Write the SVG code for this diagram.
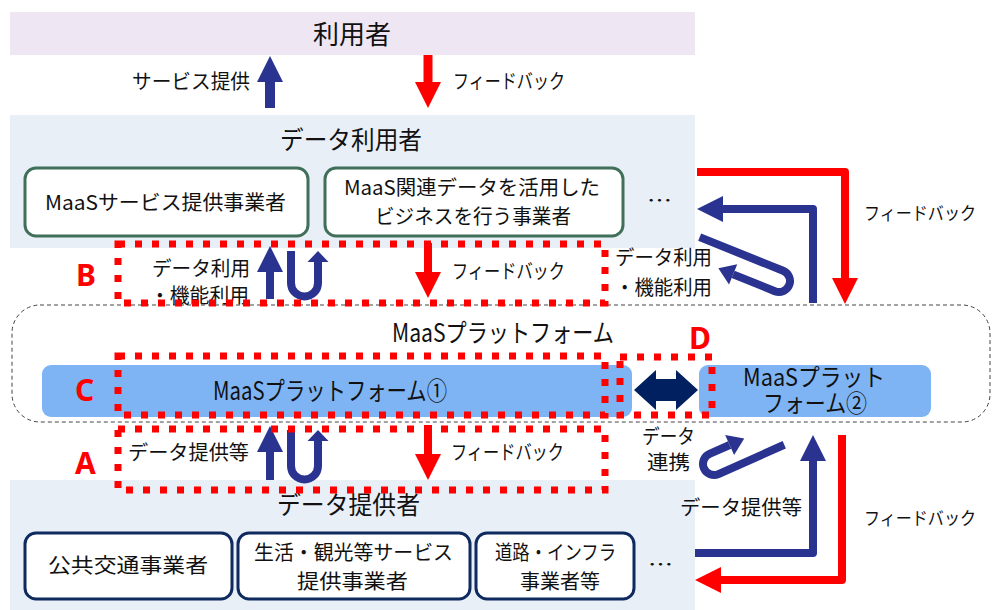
<svg xmlns="http://www.w3.org/2000/svg" width="992" height="610" viewBox="0 0 992 610">
<style>
text{font-family:"Noto Sans CJK JP","Noto Sans",sans-serif;fill:#111;}
.t20{font-size:20px;}
.t18{font-size:18px;}
.t24{font-size:24px;}
.t25{font-size:25px;}
.lbl{font-family:"Noto Sans","Liberation Sans",sans-serif;font-weight:bold;font-size:30px;fill:#FF0000;}
.band{fill:#E9EFF7;}
.gbox{fill:#fff;stroke:#41705A;stroke-width:3;}
.nbox{fill:#fff;stroke:#0F2A5E;stroke-width:3;}
.bar{fill:#7FB4F4;}
.dot{fill:none;stroke:#FF0000;stroke-width:7;stroke-dasharray:7 10;}
.blue{fill:none;stroke:#2B3391;stroke-linejoin:round;}
.red{fill:none;stroke:#FF0000;stroke-linejoin:round;}
</style>
<defs>
<marker id="hb" markerUnits="userSpaceOnUse" markerWidth="27" markerHeight="26" refX="0" refY="13" orient="auto" overflow="visible"><path d="M0,0 L26,13 L0,26 Z" fill="#2B3391"/></marker>
<marker id="hr" markerUnits="userSpaceOnUse" markerWidth="27" markerHeight="26" refX="0" refY="13" orient="auto" overflow="visible"><path d="M0,0 L26,13 L0,26 Z" fill="#FF0000"/></marker>
<marker id="hbs" markerUnits="userSpaceOnUse" markerWidth="12" markerHeight="21" refX="0" refY="10.5" orient="auto" overflow="visible"><path d="M0,0 L11,10.5 L0,21 Z" fill="#2B3391"/></marker>
<marker id="hbh" markerUnits="userSpaceOnUse" markerWidth="17" markerHeight="22" refX="0" refY="11" orient="auto" overflow="visible"><path d="M0,0 L16,11 L0,22 Z" fill="#2B3391"/></marker>
</defs>

<g id="users">
<rect x="10" y="12" width="685" height="43" fill="#EEE6F3"/>
<text x="352" y="44" font-size="26" text-anchor="middle">利用者</text>
</g>

<g id="data-users">
<rect class="band" x="10" y="115" width="685" height="133"/>
<text class="t25" x="280" y="149" textLength="142" lengthAdjust="spacingAndGlyphs">データ利用者</text>
</g>
<g id="maas-service">
<rect class="gbox" x="25" y="168" width="283" height="68" rx="11"/>
<text class="t20" x="45" y="210" textLength="241" lengthAdjust="spacingAndGlyphs">MaaSサービス提供事業者</text>
</g>
<g id="maas-data-biz">
<rect class="gbox" x="325" y="168" width="298" height="68" rx="11"/>
<text class="t20" x="344" y="195" textLength="256" lengthAdjust="spacingAndGlyphs">MaaS関連データを活用した</text>
<text class="t20" x="375" y="224" textLength="196" lengthAdjust="spacingAndGlyphs">ビジネスを行う事業者</text>
</g>
<g id="users-more"><text class="t20" x="647" y="208" textLength="25" lengthAdjust="spacingAndGlyphs">…</text></g>

<g id="data-providers">
<rect class="band" x="10" y="480" width="685" height="130"/>
<text class="t25" x="277" y="514" textLength="143" lengthAdjust="spacingAndGlyphs">データ提供者</text>
</g>
<g id="transit">
<rect class="nbox" x="25" y="533" width="207" height="66" rx="11"/>
<text class="t20" x="48" y="573" textLength="160" lengthAdjust="spacingAndGlyphs">公共交通事業者</text>
</g>
<g id="life-tourism">
<rect class="nbox" x="238" y="533" width="232" height="66" rx="11"/>
<text class="t20" x="254" y="560" textLength="199" lengthAdjust="spacingAndGlyphs">生活・観光等サービス</text>
<text class="t20" x="297" y="589" textLength="111" lengthAdjust="spacingAndGlyphs">提供事業者</text>
</g>
<g id="road-infra">
<rect class="nbox" x="476" y="533" width="158" height="66" rx="11"/>
<text class="t20" x="495" y="560" textLength="121" lengthAdjust="spacingAndGlyphs">道路・インフラ</text>
<text class="t20" x="520" y="589" textLength="80" lengthAdjust="spacingAndGlyphs">事業者等</text>
</g>
<g id="providers-more"><text class="t20" x="648" y="572" textLength="25" lengthAdjust="spacingAndGlyphs">…</text></g>

<g id="platform">
<rect x="12" y="305" width="978" height="117" rx="28" fill="none" stroke="#444" stroke-width="1" stroke-dasharray="4 3"/>
<text class="t25" x="392" y="342" textLength="222" lengthAdjust="spacingAndGlyphs">MaaSプラットフォーム</text>
</g>
<g id="platform1">
<rect class="bar" x="42" y="365" width="590" height="52" rx="9"/>
<text class="t25" x="213" y="400" textLength="234" lengthAdjust="spacingAndGlyphs">MaaSプラットフォーム①</text>
</g>
<g id="platform2">
<rect class="bar" x="699" y="365" width="232" height="52" rx="9"/>
<text class="t24" x="743" y="386" textLength="142" lengthAdjust="spacingAndGlyphs">MaaSプラット</text>
<text class="t24" x="763" y="412" textLength="104" lengthAdjust="spacingAndGlyphs">フォーム②</text>
</g>

<g id="connectors">
<path class="blue" d="M270,108 V82" stroke-width="10" marker-end="url(#hb)"/>
<path class="red" d="M428,55 V82" stroke-width="9" marker-end="url(#hr)"/>
<path class="blue" d="M270,299 V272" stroke-width="8" marker-end="url(#hb)"/>
<path class="blue" d="M291,251 V283 A13.5,13.5 0 0 0 318,283 V262" stroke-width="8" marker-end="url(#hbs)"/>
<path class="red" d="M428,243 V272" stroke-width="8" marker-end="url(#hr)"/>
<path class="blue" d="M270,480 V452" stroke-width="8" marker-end="url(#hb)"/>
<path class="blue" d="M291,430 V466 A13.5,13.5 0 0 0 318,466 V441" stroke-width="8" marker-end="url(#hbs)"/>
<path class="red" d="M428,425 V454" stroke-width="8" marker-end="url(#hr)"/>
<path class="red" d="M697,172 H845 V278" stroke-width="8" marker-end="url(#hr)"/>
<path class="blue" d="M813,303 V209 H723" stroke-width="8" marker-end="url(#hb)"/>
<path class="blue" transform="translate(779,281) rotate(22)" d="M-90,-11 H0 A11,11 0 0 1 0,11 H-45" stroke-width="8" marker-end="url(#hbh)"/>
<path class="blue" transform="translate(714,464) rotate(-24)" d="M72,11 H0 A11,11 0 0 1 0,-11 H22" stroke-width="8" marker-end="url(#hbh)"/>
<path class="blue" d="M695,553 H813 V461" stroke-width="8" marker-end="url(#hb)"/>
<path class="red" d="M842,435 V580 H721" stroke-width="8" marker-end="url(#hr)"/>
<polygon points="634,390 656,370 656,379 676,379 676,370 698,390 676,410 676,401 656,401 656,410" fill="#002060"/>
</g>

<g id="labels">
<text class="t20" x="132" y="89" textLength="118" lengthAdjust="spacingAndGlyphs">サービス提供</text>
<text class="t20" x="453" y="89" textLength="112" lengthAdjust="spacingAndGlyphs">フィードバック</text>
<text class="t20" x="152" y="276" textLength="98" lengthAdjust="spacingAndGlyphs">データ利用</text>
<text class="t20" x="150" y="303" textLength="99" lengthAdjust="spacingAndGlyphs">・機能利用</text>
<text class="t20" x="452" y="279" textLength="113" lengthAdjust="spacingAndGlyphs">フィードバック</text>
<text class="t20" x="615" y="265" textLength="97" lengthAdjust="spacingAndGlyphs">データ利用</text>
<text class="t20" x="615" y="295" textLength="97" lengthAdjust="spacingAndGlyphs">・機能利用</text>
<text class="t18" x="864" y="220" textLength="112" lengthAdjust="spacingAndGlyphs">フィードバック</text>
<text class="t20" x="128" y="460" textLength="121" lengthAdjust="spacingAndGlyphs">データ提供等</text>
<text class="t20" x="451" y="460" textLength="113" lengthAdjust="spacingAndGlyphs">フィードバック</text>
<text class="t20" x="642" y="444" textLength="53" lengthAdjust="spacingAndGlyphs">データ</text>
<text class="t20" x="647" y="470" textLength="43" lengthAdjust="spacingAndGlyphs">連携</text>
<text class="t20" x="680" y="515" textLength="122" lengthAdjust="spacingAndGlyphs">データ提供等</text>
<text class="t18" x="864" y="525" textLength="112" lengthAdjust="spacingAndGlyphs">フィードバック</text>
</g>

<g id="focus-areas">
<rect class="dot" x="118" y="244" width="487" height="59"/>
<rect class="dot" x="118" y="356" width="487" height="59"/>
<rect class="dot" x="620" y="357" width="92" height="58"/>
<rect class="dot" x="118" y="429" width="487" height="61"/>
<text class="lbl" x="76" y="286">B</text>
<text class="lbl" x="75" y="401">C</text>
<text class="lbl" x="689" y="349">D</text>
<text class="lbl" x="75" y="474">A</text>
</g>
</svg>
